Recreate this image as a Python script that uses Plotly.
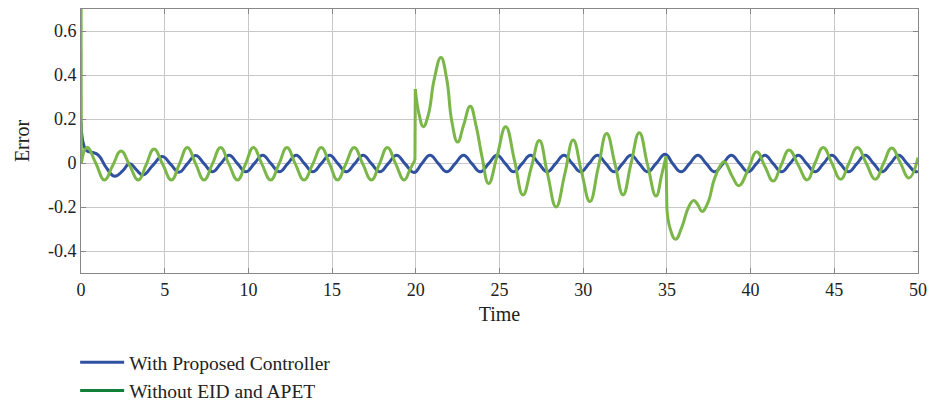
import plotly.graph_objects as go

# ---- data ----
t_blue = [0.0, 0.15, 0.35, 0.7, 1.05, 1.5, 2.0, 2.5, 2.9, 3.3, 3.7, 4.3, 4.85,
          5.35, 5.85, 6.35, 6.85, 7.35, 7.85, 8.35, 8.85, 9.35, 9.85, 10.35, 10.85,
          11.35, 11.85, 12.35, 12.85, 13.35, 13.85, 14.35, 14.85, 15.35, 15.85,
          16.35, 16.85, 17.35, 17.85, 18.35, 18.85, 19.35, 19.9, 20.35, 20.85,
          21.35, 21.85, 22.35, 22.85, 23.35, 23.85, 24.35, 24.85, 25.35, 25.85,
          26.35, 26.85, 27.35, 27.85, 28.35, 28.85, 29.35, 29.85, 30.35, 30.85,
          31.35, 31.85, 32.35, 32.85, 33.35, 33.85, 34.35, 34.9, 35.35, 35.85,
          36.35, 36.85, 37.35, 37.85, 38.35, 38.85, 39.35, 39.85, 40.35, 40.85,
          41.35, 41.85, 42.35, 42.85, 43.35, 43.85, 44.35, 44.85, 45.35, 45.85,
          46.35, 46.85, 47.35, 47.85, 48.35, 48.85, 49.35, 49.85, 50.0]
e_blue = [0.19, 0.085, 0.055, 0.048, 0.035, -0.02, -0.06, -0.035, -0.002, -0.03, -0.055, -0.01, 0.03,
          -0.005, -0.042, -0.004, 0.034, -0.003, -0.04, -0.003, 0.035, -0.003, -0.04, -0.003, 0.035,
          -0.003, -0.04, -0.003, 0.035, -0.003, -0.04, -0.003, 0.035, -0.003, -0.04,
          -0.003, 0.035, -0.003, -0.04, -0.003, 0.035, -0.003, -0.043, -0.003, 0.035,
          -0.003, -0.04, -0.003, 0.035, -0.003, -0.04, -0.003, 0.035, -0.003, -0.04,
          -0.003, 0.035, -0.003, -0.04, -0.003, 0.035, -0.003, -0.04, -0.003, 0.035,
          -0.003, -0.04, -0.003, 0.035, -0.003, -0.04, -0.003, 0.04, -0.003, -0.04,
          -0.003, 0.035, -0.003, -0.04, -0.003, 0.035, -0.003, -0.04, -0.003, 0.035,
          -0.003, -0.04, -0.003, 0.035, -0.003, -0.04, -0.003, 0.035, -0.003, -0.04,
          -0.003, 0.035, -0.003, -0.04, -0.003, 0.035, -0.003, -0.04, -0.036]

# green: three smooth segments separated by None (gaps at the jumps)
t_green = [0.02, 0.36, 0.88, 1.4, 1.9, 2.39, 2.9, 3.42, 3.9, 4.36, 4.88, 5.4, 5.88,
           6.35, 6.85, 7.35, 7.85, 8.34, 8.83, 9.35, 9.83, 10.3, 10.8, 11.33, 11.83,
           12.3, 12.8, 13.32, 13.85, 14.35, 14.85, 15.32, 15.82, 16.32, 16.83, 17.35,
           17.83, 18.3, 18.8, 19.3, 19.65, 19.95,
           None,
           19.97, 20.2, 20.45, 20.75, 21.1, 21.5, 21.85, 22.15, 22.5, 22.85, 23.25,
           23.6, 23.95, 24.35, 24.85, 25.37, 25.9, 26.4, 26.9, 27.38, 27.87, 28.38,
           28.9, 29.4, 29.9, 30.4, 30.9, 31.4, 31.9, 32.38, 32.85, 33.35, 33.85,
           34.35, 34.7, 34.95,
           None,
           35.0, 35.2, 35.52, 35.9, 36.3, 36.6, 36.85, 37.1, 37.45, 37.85, 38.3,
           38.45, 38.9, 39.3, 39.85, 40.36, 40.85, 41.35, 41.82, 42.3, 42.85, 43.38,
           43.85, 44.34, 44.85, 45.38, 45.88, 46.38, 46.9, 47.45, 47.95, 48.43,
           48.95, 49.46, 50.0]
e_green = [0.0, 0.071, 0.0, -0.077, -0.01, 0.055, -0.01, -0.077, -0.006, 0.064, -0.006, -0.077, -0.004,
           0.07, -0.004, -0.077, -0.004, 0.07, -0.004, -0.077, -0.004, 0.07, -0.004, -0.077, -0.004,
           0.07, -0.004, -0.077, -0.004, 0.07, -0.004, -0.077, -0.004, 0.07, -0.004, -0.077,
           -0.004, 0.07, -0.004, -0.077, -0.03, 0.014,
           None,
           0.336, 0.22, 0.165, 0.22, 0.38, 0.48, 0.38, 0.19, 0.095, 0.17, 0.258,
           0.17, 0.03, -0.093, 0.03, 0.165, 0.01, -0.145, -0.02, 0.102, -0.05, -0.2,
           -0.05, 0.105, -0.04, -0.175, -0.02, 0.134, -0.005, -0.145, -0.005, 0.138, -0.01,
           -0.15, -0.05, 0.03,
           None,
           -0.21, -0.3, -0.347, -0.29, -0.2, -0.17, -0.19, -0.22, -0.18, -0.07, 0.0,
           0.005, -0.06, -0.103, -0.03, 0.051, -0.015, -0.082, -0.01, 0.059, -0.01, -0.077,
           0.0, 0.071, 0.0, -0.074, 0.0, 0.07, 0.0, -0.074, 0.0, 0.068,
           0.0, -0.068, 0.025]

# vertical jumps of the green curve (start, t=20, t=35)
t_jump = [0.0, 0.02, None, 19.95, 19.97, None, 34.95, 35.0]
e_jump = [1.0, 0.0, None, 0.014, 0.336, None, 0.03, -0.21]

x_ticks = [0, 5, 10, 15, 20, 25, 30, 35, 40, 45, 50]
y_ticks = [-0.4, -0.2, 0, 0.2, 0.4, 0.6]
y_ticktext = ["-0.4", "-0.2", "0", "0.2", "0.4", "0.6"]

names = ["With Proposed Controller", "Without EID and APET"]

BLUE = "#3050A0"
GREEN = "#7AB648"
GREEN_LEG = "#138039"
FONT = "Liberation Serif"

fig = go.Figure()
fig.add_trace(go.Scatter(x=t_blue, y=e_blue, mode="lines",
                         line=dict(color=BLUE, width=3, shape="spline", smoothing=1.3),
                         showlegend=False, hoverinfo="skip"))
fig.add_trace(go.Scatter(x=t_green, y=e_green, mode="lines",
                         line=dict(color=GREEN, width=3, shape="spline", smoothing=1.3),
                         connectgaps=False, showlegend=False, hoverinfo="skip"))
fig.add_trace(go.Scatter(x=t_jump, y=e_jump, mode="lines", line=dict(color=GREEN, width=3),
                         connectgaps=False, showlegend=False, hoverinfo="skip"))
# legend entries
fig.add_trace(go.Scatter(x=[None], y=[None], mode="lines", name=names[0], line=dict(color=BLUE, width=3)))
fig.add_trace(go.Scatter(x=[None], y=[None], mode="lines", name=names[1], line=dict(color=GREEN_LEG, width=3)))

fig.update_layout(
    width=932, height=402,
    margin=dict(l=81, r=14, t=9, b=129, autoexpand=False),
    plot_bgcolor="white", paper_bgcolor="white",
    font=dict(family=FONT, size=18, color="#222222"),
    legend=dict(x=-0.007, xanchor="left", y=-0.265, yanchor="top", font=dict(size=19.5, family=FONT),
                bgcolor="rgba(0,0,0,0)", tracegroupgap=0, itemwidth=44),
    showlegend=True,
)
fig.update_xaxes(range=[0, 50], tickvals=x_ticks, showgrid=True, gridcolor="#c8c8c8", gridwidth=1,
                 zeroline=False, showline=True, linecolor="#888888", linewidth=1, mirror="ticks",
                 ticks="inside", ticklen=5, tickcolor="#888888",
                 title=dict(text="Time", font=dict(size=20, family=FONT), standoff=8),
                 tickfont=dict(size=18, family=FONT))
fig.update_yaxes(range=[-0.5, 0.7], tickvals=y_ticks, ticktext=y_ticktext, showgrid=True,
                 gridcolor="#c8c8c8", gridwidth=1, zeroline=False, showline=True, linecolor="#888888",
                 linewidth=1, mirror="ticks", ticks="inside", ticklen=5, tickcolor="#888888",
                 title=dict(text="Error", font=dict(size=20, family=FONT), standoff=12),
                 tickfont=dict(size=18, family=FONT))

fig.write_html("out.html")
